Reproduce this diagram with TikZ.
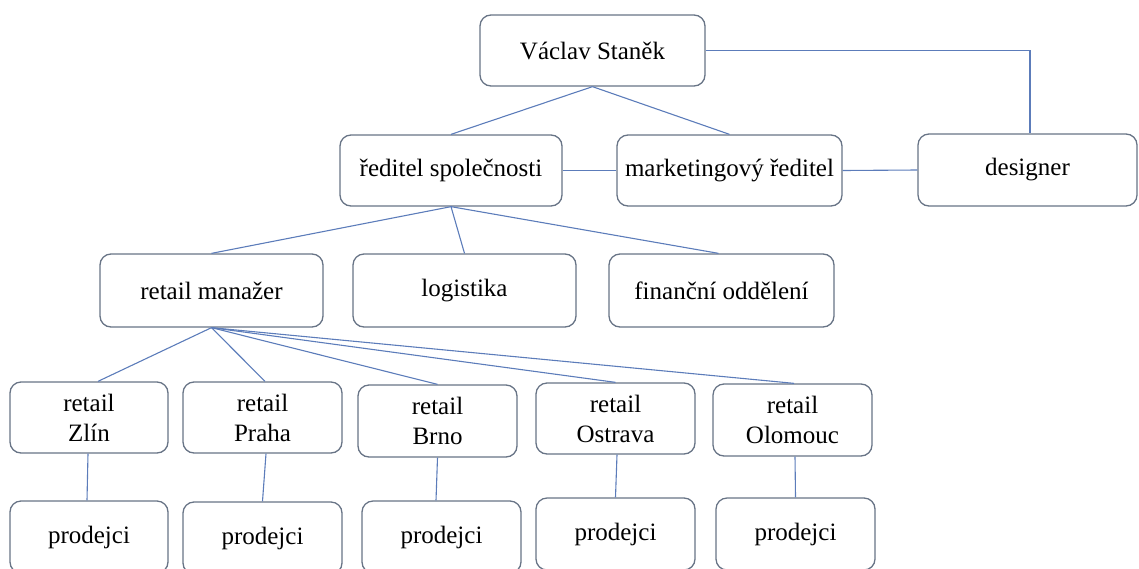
\documentclass[tikz,border=0pt]{standalone}
\usepackage{fontspec}
\setmainfont{Liberation Serif}
\begin{document}
\begin{tikzpicture}[x=1pt,y=-1pt,
  box/.style={draw=boxline, line width=1.3pt, rounded corners=11pt, fill=white,
    inner sep=0pt, align=center, font=\fontsize{25}{30}\selectfont},
  link/.style={draw=linkblue, line width=1.1pt}]
\definecolor{boxline}{RGB}{104,116,134}
\definecolor{linkblue}{RGB}{92,124,186}
\path[use as bounding box, clip] (0,0) rectangle (1139,568);

% top level
\node[box, minimum width=225pt, minimum height=71pt] (vaclav) at (592.5,50.5) {Václav Staněk};

% second level
\node[box, minimum width=222pt, minimum height=71pt] (reditel) at (451,170.5) {ředitel společnosti};
\node[box, minimum width=225pt, minimum height=71pt] (marketing) at (729.5,170.5) {marketingový ředitel};
\node[box, minimum width=219pt, minimum height=72pt] (designer) at (1027.5,170) {designer};

% third level
\node[box, minimum width=223pt, minimum height=73pt] (manazer) at (211.5,290.5) {retail manažer};
\node[box, minimum width=223pt, minimum height=73pt] (logistika) at (464.5,290.5) {logistika};
\node[box, minimum width=225pt, minimum height=73pt] (financni) at (721.5,290.5) {finanční oddělení};

% retail branches
\node[box, minimum width=158pt, minimum height=71pt] (zlin) at (89,417.5) {retail\\Zlín};
\node[box, minimum width=159pt, minimum height=71pt] (praha) at (262.5,417.5) {retail\\Praha};
\node[box, minimum width=159pt, minimum height=72pt] (brno) at (437.5,421) {retail\\Brno};
\node[box, minimum width=159pt, minimum height=71pt] (ostrava) at (615.5,418.5) {retail\\Ostrava};
\node[box, minimum width=159pt, minimum height=72pt] (olomouc) at (792.5,420) {retail\\Olomouc};

% sales staff
\node[box, minimum width=158pt, minimum height=72pt] (p1) at (89,537) {prodejci};
\node[box, minimum width=159pt, minimum height=72pt] (p2) at (262.5,538) {prodejci};
\node[box, minimum width=159pt, minimum height=72pt] (p3) at (441.5,537) {prodejci};
\node[box, minimum width=159pt, minimum height=72pt] (p4) at (615.5,534) {prodejci};
\node[box, minimum width=159pt, minimum height=72pt] (p5) at (795.5,534) {prodejci};

% connectors
\draw[link] (vaclav.south) -- (reditel.north);
\draw[link] (vaclav.south) -- (marketing.north);
\draw[link] (vaclav.east) -| ([xshift=2.5pt]designer.north);
\draw[link] (reditel.east) -- (marketing.west);
\draw[link] (marketing.east) -- (designer.west);

\draw[link] (reditel.south) -- (manazer.north);
\draw[link] (reditel.south) -- (logistika.north);
\draw[link] (reditel.south) -- ([xshift=-3pt]financni.north);

\draw[link] (manazer.south) -- ([xshift=9pt]zlin.north);
\draw[link] (manazer.south) -- ([xshift=2.5pt]praha.north);
\draw[link] (manazer.south) -- (brno.north);
\draw[link] (manazer.south) -- (ostrava.north);
\draw[link] (manazer.south) -- ([xshift=1.5pt]olomouc.north);

\draw[link] ([xshift=-1pt]zlin.south) -- ([xshift=-2pt]p1.north);
\draw[link] ([xshift=3.5pt]praha.south) -- (p2.north);
\draw[link] (brno.south) -- ([xshift=-5.5pt]p3.north);
\draw[link] ([xshift=1.5pt]ostrava.south) -- (p4.north);
\draw[link] ([xshift=2.5pt]olomouc.south) -- (p5.north);
\end{tikzpicture}
\end{document}
